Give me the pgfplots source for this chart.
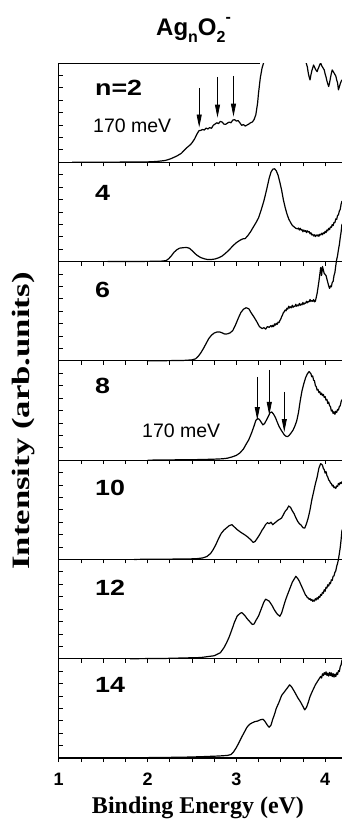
\documentclass[border=0pt]{standalone}
\usepackage{fontspec}
\setmainfont{Liberation Sans}
\newfontfamily\timesfont{Liberation Serif}
\usepackage{pgfplots}
\pgfplotsset{compat=1.18}
\usetikzlibrary{arrows.meta}

% one stacked spectrum panel
\pgfplotsset{panel/.style={
  scale only axis, width=283.3pt, height=99.29pt,
  anchor=north west,
  xmin=1, xmax=4.19, ymin=0, ymax=1,
  axis x line*=bottom, axis y line*=left,
  axis line style={-, line width=1.1pt, black},
  xtick={1,2,3,4},
  minor xtick={1.25,1.5,1.75,2.25,2.5,2.75,3.25,3.5,3.75,4.25},
  xticklabels={},
  ytick={0.125,0.25,0.375,0.5,0.625,0.75,0.875},
  yticklabels={},
  tick align=inside,
  major tick length=4pt, minor tick length=4pt,
  every tick/.style={black, line width=0.8pt},
  x tick style={yshift=-4pt},
  clip=false,
}}
\tikzset{
  spec/.style={black, line width=1.2pt, line join=round},
  num/.style={anchor=base west, inner sep=0pt, font=\fontsize{22}{22}\selectfont\bfseries},
  mev/.style={anchor=base west, inner sep=0pt, font=\fontsize{19.5}{20}\selectfont},
  peak/.style={-{Triangle[length=13pt,width=5pt]}, line width=0.8pt, black},
}

\begin{document}
\begin{tikzpicture}
\useasboundingbox (-58.7pt,63pt) rectangle (283.3pt,-757pt);

% n = 2
\begin{axis}[panel, at={(0pt,0pt)}, clip=true]
\addplot[spec] coordinates {
(1.15,0.000) (1.40,0.001) (1.70,0.002) (2.00,0.004) (2.10,0.008) (2.20,0.018)
(2.26,0.035) (2.33,0.063) (2.38,0.090) (2.44,0.145) (2.48,0.175) (2.50,0.195)
(2.53,0.235) (2.56,0.290) (2.58,0.318) (2.60,0.322) (2.62,0.330) (2.64,0.325)
(2.66,0.345) (2.68,0.335) (2.70,0.350) (2.72,0.342) (2.74,0.372) (2.76,0.385)
(2.78,0.398) (2.80,0.390) (2.82,0.412) (2.84,0.405) (2.86,0.385) (2.88,0.382)
(2.90,0.395) (2.92,0.405) (2.94,0.398) (2.96,0.425) (2.98,0.430) (3.00,0.415)
(3.02,0.420) (3.04,0.398) (3.06,0.372) (3.08,0.380) (3.10,0.365) (3.12,0.375)
(3.14,0.385) (3.16,0.398) (3.18,0.405) (3.20,0.430) (3.22,0.480) (3.24,0.600)
(3.25,0.697) (3.27,0.850) (3.29,0.950) (3.31,1.010) (3.35,1.150) (3.50,1.400)
(3.70,1.300) (3.77,1.050) (3.80,0.960) (3.81,0.900) (3.82,0.860) (3.83,0.830)
(3.84,0.880) (3.85,0.920) (3.86,0.950) (3.87,0.980) (3.88,0.960) (3.89,0.940)
(3.90,0.925) (3.91,0.913) (3.92,0.940) (3.93,0.960) (3.94,0.985) (3.95,1.000)
(3.96,0.975) (3.97,0.960) (3.98,0.945) (3.99,0.930) (4.00,0.890) (4.01,0.860)
(4.02,0.820) (4.03,0.790) (4.04,0.763) (4.05,0.800) (4.06,0.850) (4.07,0.895)
(4.08,0.930) (4.09,0.915) (4.10,0.900) (4.11,0.885) (4.12,0.870) (4.13,0.830)
(4.14,0.800) (4.15,0.730) (4.16,0.760) (4.17,0.790) (4.18,0.815) (4.19,0.830)
};
\draw[line width=1.1pt] (rel axis cs:0,1) -- (axis cs:3.27,1);
\node[num] at (rel axis cs:0.128,0.668) {\scalebox{1.22}[1]{n=2}};
\node[mev] at (rel axis cs:0.121,0.305) {170 meV};
\draw[peak] (axis cs:2.582,0.75) -- (axis cs:2.582,0.35);
\draw[peak] (axis cs:2.788,0.86) -- (axis cs:2.788,0.45);
\draw[peak] (axis cs:2.968,0.87) -- (axis cs:2.968,0.46);
\end{axis}

% n = 4
\begin{axis}[panel, at={(0pt,-99.29pt)}]
\addplot[spec] coordinates {
(1.55,0.000) (2.00,0.002) (2.15,0.004) (2.21,0.010) (2.24,0.030) (2.27,0.060)
(2.30,0.095) (2.33,0.119) (2.36,0.135) (2.40,0.140) (2.44,0.142) (2.47,0.135)
(2.50,0.112) (2.53,0.085) (2.56,0.062) (2.60,0.040) (2.64,0.028) (2.68,0.020)
(2.72,0.021) (2.76,0.026) (2.80,0.038) (2.84,0.056) (2.88,0.085) (2.92,0.118)
(2.96,0.158) (3.00,0.190) (3.04,0.214) (3.07,0.228) (3.10,0.232) (3.13,0.262)
(3.16,0.300) (3.19,0.345) (3.22,0.390) (3.25,0.440) (3.28,0.520) (3.31,0.610)
(3.34,0.720) (3.37,0.840) (3.39,0.900) (3.41,0.930) (3.43,0.935) (3.45,0.915)
(3.47,0.870) (3.49,0.800) (3.51,0.720) (3.53,0.622) (3.55,0.545) (3.57,0.480)
(3.59,0.430) (3.61,0.395) (3.63,0.365) (3.65,0.350) (3.67,0.335) (3.69,0.330)
(3.70,0.338) (3.71,0.318) (3.72,0.335) (3.73,0.318) (3.74,0.322) (3.75,0.300)
(3.76,0.318) (3.77,0.305) (3.78,0.312) (3.79,0.292) (3.80,0.310) (3.81,0.298)
(3.82,0.302) (3.83,0.280) (3.84,0.290) (3.85,0.268) (3.86,0.275) (3.87,0.258)
(3.88,0.270) (3.89,0.252) (3.90,0.268) (3.91,0.258) (3.92,0.270) (3.93,0.255)
(3.94,0.275) (3.95,0.268) (3.96,0.285) (3.97,0.270) (3.98,0.290) (3.99,0.282)
(4.00,0.305) (4.01,0.292) (4.02,0.318) (4.03,0.310) (4.04,0.335) (4.05,0.322)
(4.06,0.350) (4.07,0.345) (4.08,0.372) (4.09,0.362) (4.10,0.395) (4.11,0.392)
(4.12,0.430) (4.13,0.425) (4.14,0.465) (4.15,0.470) (4.16,0.510) (4.17,0.525)
(4.18,0.580) (4.19,0.610)
};
\node[num] at (rel axis cs:0.128,0.620) {\scalebox{1.22}[1]{4}};
\end{axis}

% n = 6
\begin{axis}[panel, at={(0pt,-198.57pt)}]
\addplot[spec] coordinates {
(2.00,0.000) (2.40,0.004) (2.50,0.010) (2.54,0.020) (2.57,0.045) (2.60,0.080)
(2.63,0.125) (2.66,0.175) (2.69,0.225) (2.72,0.258) (2.75,0.280) (2.78,0.290)
(2.81,0.292) (2.84,0.282) (2.87,0.270) (2.90,0.272) (2.93,0.282) (2.96,0.305)
(2.99,0.360) (3.02,0.425) (3.05,0.485) (3.08,0.520) (3.11,0.535) (3.14,0.525)
(3.17,0.480) (3.20,0.440) (3.23,0.395) (3.26,0.345) (3.29,0.325) (3.31,0.335)
(3.33,0.320) (3.35,0.345) (3.37,0.338) (3.39,0.355) (3.40,0.342) (3.41,0.358)
(3.42,0.345) (3.43,0.372) (3.44,0.360) (3.45,0.378) (3.46,0.368) (3.47,0.390)
(3.48,0.385) (3.49,0.405) (3.50,0.420) (3.51,0.445) (3.52,0.462) (3.53,0.485)
(3.54,0.495) (3.55,0.512) (3.56,0.505) (3.57,0.530) (3.58,0.522) (3.59,0.550)
(3.60,0.532) (3.61,0.545) (3.62,0.535) (3.63,0.560) (3.64,0.540) (3.65,0.552)
(3.66,0.548) (3.67,0.570) (3.68,0.550) (3.69,0.562) (3.70,0.555) (3.71,0.578)
(3.72,0.560) (3.73,0.572) (3.74,0.565) (3.75,0.588) (3.76,0.570) (3.77,0.582)
(3.78,0.580) (3.79,0.600) (3.80,0.585) (3.81,0.598) (3.82,0.595) (3.83,0.618)
(3.84,0.598) (3.85,0.608) (3.86,0.600) (3.87,0.618) (3.88,0.595) (3.89,0.600)
(3.91,0.680) (3.93,0.800) (3.95,0.940) (3.96,0.860) (3.97,0.950) (3.99,0.880)
(4.01,0.860) (4.03,0.790) (4.04,0.755) (4.05,0.730) (4.06,0.755) (4.07,0.745)
(4.08,0.790) (4.09,0.800) (4.10,0.860) (4.11,0.890) (4.12,0.960) (4.13,1.020)
(4.14,1.060) (4.15,1.120) (4.16,1.170) (4.17,1.240) (4.18,1.300) (4.19,1.380)
};
\node[num] at (rel axis cs:0.128,0.643) {\scalebox{1.22}[1]{6}};
\end{axis}

% n = 8
\begin{axis}[panel, at={(0pt,-297.86pt)}]
\addplot[spec] coordinates {
(2.00,0.000) (2.30,0.003) (2.60,0.006) (2.75,0.010) (2.85,0.014) (2.90,0.020)
(2.95,0.032) (3.00,0.048) (3.04,0.072) (3.08,0.112) (3.11,0.160) (3.14,0.205)
(3.17,0.270) (3.20,0.345) (3.22,0.400) (3.24,0.420) (3.26,0.410) (3.28,0.382)
(3.30,0.355) (3.32,0.372) (3.34,0.405) (3.36,0.440) (3.38,0.478) (3.40,0.485)
(3.42,0.462) (3.44,0.430) (3.46,0.385) (3.48,0.342) (3.50,0.310) (3.52,0.282)
(3.54,0.255) (3.56,0.240) (3.58,0.238) (3.60,0.255) (3.62,0.278) (3.64,0.305)
(3.66,0.345) (3.68,0.395) (3.70,0.480) (3.72,0.600) (3.74,0.700) (3.76,0.770)
(3.78,0.830) (3.80,0.870) (3.82,0.892) (3.84,0.870) (3.85,0.840) (3.86,0.848)
(3.87,0.805) (3.88,0.800) (3.89,0.752) (3.90,0.740) (3.91,0.705) (3.92,0.712)
(3.93,0.680) (3.94,0.690) (3.95,0.660) (3.96,0.675) (3.97,0.650) (3.98,0.662)
(3.99,0.632) (4.00,0.640) (4.01,0.605) (4.02,0.612) (4.03,0.572) (4.04,0.585)
(4.05,0.548) (4.06,0.540) (4.07,0.495) (4.08,0.505) (4.09,0.470) (4.10,0.488)
(4.11,0.462) (4.12,0.492) (4.13,0.480) (4.14,0.510) (4.15,0.505) (4.16,0.540)
(4.17,0.548) (4.18,0.590) (4.19,0.610)
};
\node[num] at (rel axis cs:0.128,0.667) {\scalebox{1.22}[1]{8}};
\node[mev] at (rel axis cs:0.294,0.224) {170 meV};
\draw[peak] (axis cs:3.236,0.838) -- (axis cs:3.236,0.404);
\draw[peak] (axis cs:3.371,0.909) -- (axis cs:3.371,0.455);
\draw[peak] (axis cs:3.540,0.687) -- (axis cs:3.540,0.283);
\end{axis}

% n = 10
\begin{axis}[panel, at={(0pt,-397.14pt)}]
\addplot[spec] coordinates {
(1.85,0.000) (2.00,0.002) (2.40,0.004) (2.55,0.007) (2.62,0.015) (2.67,0.030)
(2.71,0.060) (2.74,0.100) (2.77,0.150) (2.80,0.210) (2.83,0.262) (2.86,0.295)
(2.89,0.318) (2.92,0.340) (2.95,0.350) (2.98,0.325) (3.01,0.300) (3.04,0.280)
(3.07,0.262) (3.10,0.245) (3.13,0.225) (3.16,0.200) (3.19,0.172) (3.21,0.180)
(3.23,0.205) (3.25,0.232) (3.27,0.262) (3.29,0.295) (3.31,0.320) (3.33,0.352)
(3.35,0.370) (3.37,0.360) (3.39,0.375) (3.41,0.350) (3.43,0.365) (3.45,0.380)
(3.47,0.395) (3.49,0.405) (3.51,0.418) (3.53,0.450) (3.55,0.485) (3.57,0.505)
(3.59,0.538) (3.61,0.525) (3.63,0.490) (3.65,0.462) (3.67,0.420) (3.69,0.385)
(3.71,0.360) (3.73,0.345) (3.75,0.320) (3.77,0.315) (3.79,0.360) (3.81,0.420)
(3.83,0.500) (3.85,0.600) (3.87,0.680) (3.89,0.760) (3.91,0.830) (3.93,0.920)
(3.95,0.965) (3.97,0.950) (3.98,0.915) (3.99,0.905) (4.00,0.870) (4.01,0.885)
(4.02,0.845) (4.03,0.830) (4.04,0.800) (4.05,0.792) (4.06,0.770) (4.07,0.765)
(4.08,0.740) (4.09,0.748) (4.10,0.722) (4.11,0.730) (4.12,0.715) (4.13,0.740)
(4.14,0.735) (4.15,0.765) (4.16,0.752) (4.17,0.775) (4.18,0.765) (4.19,0.785)
};
\node[num] at (rel axis cs:0.128,0.640) {\scalebox{1.22}[1]{10}};
\end{axis}

% n = 12
\begin{axis}[panel, at={(0pt,-496.43pt)}]
\addplot[spec] coordinates {
(1.80,0.000) (2.20,0.003) (2.60,0.012) (2.75,0.030) (2.82,0.060) (2.86,0.110)
(2.89,0.160) (2.92,0.220) (2.95,0.293) (2.98,0.370) (3.01,0.430) (3.04,0.455)
(3.06,0.465) (3.08,0.450) (3.10,0.430) (3.12,0.405) (3.15,0.375) (3.18,0.345)
(3.20,0.350) (3.22,0.385) (3.25,0.430) (3.28,0.500) (3.31,0.570) (3.33,0.600)
(3.35,0.590) (3.37,0.580) (3.40,0.540) (3.43,0.490) (3.46,0.450) (3.49,0.428)
(3.51,0.460) (3.53,0.520) (3.55,0.580) (3.57,0.630) (3.60,0.700) (3.63,0.770)
(3.65,0.800) (3.67,0.830) (3.69,0.810) (3.71,0.780) (3.73,0.740) (3.75,0.700)
(3.77,0.660) (3.78,0.640) (3.79,0.632) (3.80,0.615) (3.81,0.612) (3.82,0.598)
(3.83,0.605) (3.84,0.588) (3.85,0.598) (3.86,0.578) (3.87,0.590) (3.88,0.580)
(3.89,0.605) (3.90,0.592) (3.91,0.615) (3.92,0.600) (3.93,0.628) (3.94,0.618)
(3.95,0.648) (3.96,0.638) (3.97,0.668) (3.98,0.660) (3.99,0.695) (4.00,0.680)
(4.01,0.720) (4.02,0.712) (4.03,0.745) (4.04,0.732) (4.05,0.765) (4.06,0.755)
(4.07,0.795) (4.08,0.790) (4.09,0.830) (4.10,0.835) (4.11,0.870) (4.12,0.885)
(4.13,0.930) (4.14,0.960) (4.15,1.000) (4.16,1.060) (4.17,1.120) (4.18,1.200)
(4.19,1.300)
};
\node[num] at (rel axis cs:0.128,0.633) {\scalebox{1.22}[1]{12}};
\end{axis}

% n = 14
\begin{axis}[panel, at={(0pt,-595.71pt)},
  xticklabels={1,2,3,4},
  xticklabel style={anchor=base, yshift=-27pt, inner sep=0pt,
    font=\fontsize{18}{18}\selectfont\bfseries}]
\addplot[spec] coordinates {
(2.00,0.004) (2.40,0.008) (2.60,0.013) (2.80,0.020) (2.90,0.026) (2.94,0.035)
(2.97,0.063) (3.00,0.105) (3.03,0.155) (3.06,0.210) (3.09,0.260) (3.12,0.310)
(3.15,0.340) (3.18,0.355) (3.21,0.367) (3.24,0.372) (3.27,0.385) (3.30,0.390)
(3.32,0.372) (3.35,0.330) (3.37,0.310) (3.39,0.330) (3.41,0.390) (3.43,0.440)
(3.45,0.500) (3.48,0.560) (3.51,0.630) (3.54,0.665) (3.57,0.700) (3.60,0.737)
(3.62,0.720) (3.64,0.690) (3.66,0.660) (3.69,0.610) (3.72,0.569) (3.75,0.520)
(3.77,0.485) (3.79,0.510) (3.81,0.560) (3.83,0.619) (3.86,0.680) (3.89,0.737)
(3.92,0.780) (3.95,0.822) (3.96,0.805) (3.97,0.848) (3.98,0.830) (3.99,0.860)
(4.00,0.840) (4.01,0.868) (4.02,0.832) (4.03,0.855) (4.04,0.825) (4.05,0.862)
(4.06,0.830) (4.07,0.858) (4.08,0.820) (4.09,0.850) (4.10,0.815) (4.11,0.845)
(4.12,0.820) (4.13,0.858) (4.14,0.840) (4.15,0.880) (4.16,0.870) (4.17,0.920)
(4.18,0.940) (4.19,0.990)
};
\node[num] at (rel axis cs:0.128,0.655) {\scalebox{1.22}[1]{14}};
\end{axis}

% title and axis titles
\node[anchor=base west, inner sep=0pt, font=\fontsize{24}{24}\selectfont\bfseries]
  at (97.3pt,28pt)
  {Ag\raisebox{-7.5pt}{\fontsize{16}{16}\selectfont n}O\raisebox{-7.5pt}{\fontsize{16}{16}\selectfont 2}\raisebox{13pt}{\fontsize{16}{16}\selectfont -}};
\node[rotate=90, inner sep=0pt, font=\timesfont\fontsize{25}{25}\selectfont\bfseries]
  at (-34.7pt,-358pt) {\scalebox{1.39}[1]{Intensity (arb.units)}};
\node[anchor=base, inner sep=0pt, font=\timesfont\fontsize{24}{24}\selectfont\bfseries]
  at (139.3pt,-750.5pt) {Binding Energy (eV)};
\end{tikzpicture}
\end{document}
